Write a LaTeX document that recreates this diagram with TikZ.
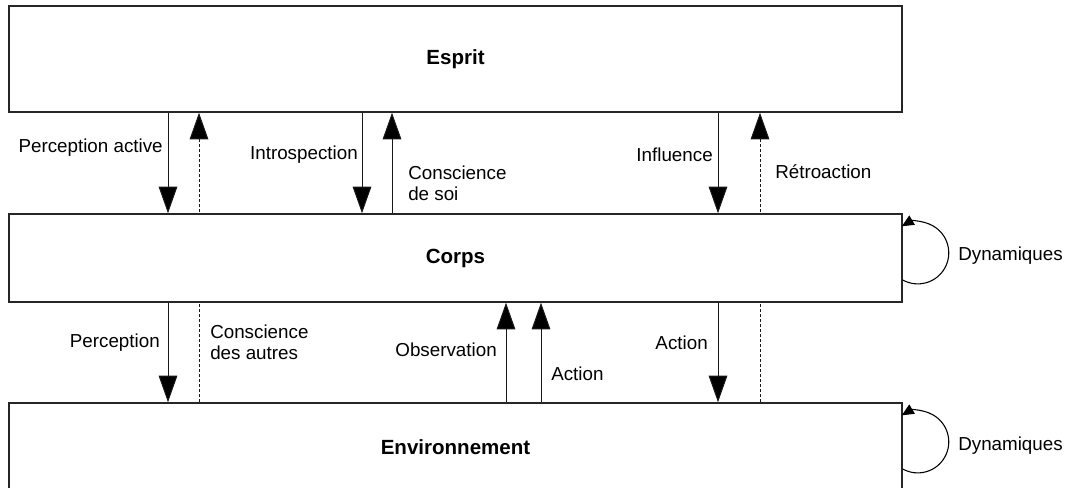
\documentclass[tikz,border=0pt]{standalone}
\usepackage{fontspec}
\setmainfont{Liberation Sans}
\usetikzlibrary{arrows.meta,backgrounds}
\begin{document}
\begin{tikzpicture}[x=0.75pt,y=-0.75pt,
  box/.style={draw=black!85, line width=1.1pt, fill=white, minimum width=669.75pt,
    inner sep=0pt, font=\fontsize{15.4}{18}\selectfont\bfseries},
  lbl/.style={inner sep=0pt, font=\fontsize{14.1}{15.75}\selectfont, align=left},
  arr/.style={line width=0.75pt, draw=black!90, -{Triangle[length=20pt,width=14pt,fill=black]}},
  darr/.style={arr, dash pattern=on 2.25pt off 1.5pt},
  loopy/.style={line width=0.8pt, -{Triangle[length=9pt,width=8pt]}}]
\useasboundingbox (0,0) rectangle (1067,488);
\clip (0,0) rectangle (1067,488);
% boxes
\node[box, minimum height=79.5pt] (esprit) at (455.5,59) {\raisebox{-2.2pt}{Esprit}};
\node[box, minimum height=66pt] (corps) at (455.5,258) {\raisebox{-1.5pt}{Corps}};
\node[box, minimum height=66pt] (env) at (455.5,447) {Environnement};
% x positions
\coordinate (xa) at (168,0);
\coordinate (xb) at (199,0);
\coordinate (xc) at (362,0);
\coordinate (xd) at (392,0);
\coordinate (xe) at (718,0);
\coordinate (xf) at (760,0);
\coordinate (xg) at (506,0);
\coordinate (xh) at (541,0);
% dashed long arrows behind Corps
\begin{scope}[on background layer]
\draw[darr] (env.north -| xb) -- (esprit.south -| xb);
\draw[darr] (env.north -| xf) -- (esprit.south -| xf);
\end{scope}
% Esprit <-> Corps
\draw[arr] (esprit.south -| xa) -- (corps.north -| xa);
\draw[arr] (esprit.south -| xc) -- (corps.north -| xc);
\draw[arr] (corps.north -| xd) -- (esprit.south -| xd);
\draw[arr] (esprit.south -| xe) -- (corps.north -| xe);
% Corps <-> Environnement
\draw[arr] (corps.south -| xa) -- (env.north -| xa);
\draw[arr] (env.north -| xg) -- (corps.south -| xg);
\draw[arr] (env.north -| xh) -- (corps.south -| xh);
\draw[arr] (corps.south -| xe) -- (env.north -| xe);
% loops
\draw[loopy] ([yshift=-16.5pt]corps.east) arc[start angle=-119, end angle=121, radius=23.25pt];
\draw[loopy] ([yshift=-16.5pt]env.east) arc[start angle=-119, end angle=121, radius=23.25pt];
% labels
\node[lbl, anchor=east] (l1) at (163,148) {Perception active};
\node[lbl, anchor=east] (l2) at (358,155) {Introspection};
\node[lbl, anchor=west] (l3) at (408,183) {Conscience\\de soi};
\node[lbl, anchor=east] (l4) at (713,155) {Influence};
\node[lbl, anchor=west] (l5) at (775,172) {Rétroaction};
\node[lbl, anchor=west] (l6) at (958,256) {Dynamiques};
\node[lbl, anchor=east] (l7) at (160,343) {Perception};
\node[lbl, anchor=west] (l8) at (210,342) {Conscience\\des autres};
\node[lbl, anchor=east] (l9) at (497,350) {Observation};
\node[lbl, anchor=west] (l10) at (551,374) {Action};
\node[lbl, anchor=east] (l11) at (708,343) {Action};
\node[lbl, anchor=west] (l12) at (958,446) {Dynamiques};
\end{tikzpicture}
\end{document}
